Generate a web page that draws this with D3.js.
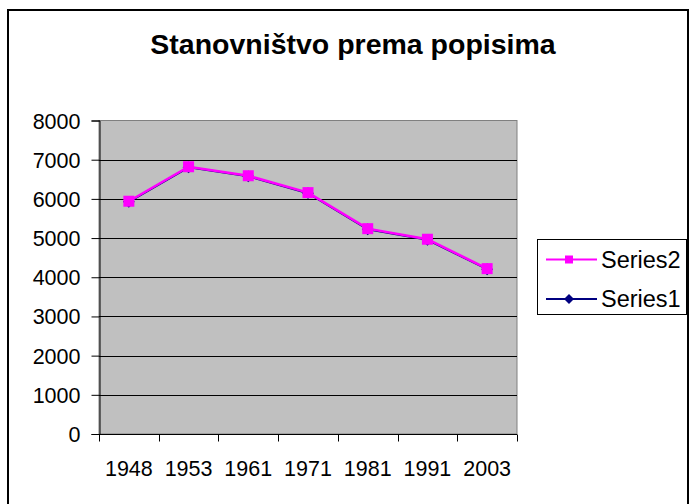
<!DOCTYPE html>
<html>
<head>
<meta charset="utf-8">
<script src="https://cdn.jsdelivr.net/npm/d3@7"></script>
<style>
  body { margin: 0; background: #fff; }
  text { font-family: "Liberation Sans", Arial, sans-serif; fill: #000; }
</style>
</head>
<body>
<div id="chart"></div>
<script>
var years = ["1948", "1953", "1961", "1971", "1981", "1991", "2003"];
var series2 = [5940, 6820, 6590, 6160, 5240, 4970, 4220];
var series1 = [5925, 6805, 6575, 6145, 5225, 4955, 4205];
var yTicks = [0, 1000, 2000, 3000, 4000, 5000, 6000, 7000, 8000];
var seriesNames = ["Series2", "Series1"];

var width = 689;
var height = 504;

var svg = d3.select("#chart")
    .append("svg")
    .attr("width", width)
    .attr("height", height);

// outer frame
svg.append("rect")
    .attr("x", 8).attr("y", 10)
    .attr("width", 680).attr("height", 510)
    .attr("fill", "none")
    .attr("stroke", "#000")
    .attr("stroke-width", 2);

svg.append("text")
    .attr("x", 353).attr("y", 54)
    .attr("text-anchor", "middle")
    .style("font-size", "28.5px")
    .style("font-weight", "bold")
    .text("Stanovništvo prema popisima");

var x = d3.scaleBand()
    .domain(years)
    .range([99, 517])
    .padding(0);

var y = d3.scaleLinear()
    .domain([0, 8000])
    .range([434, 120.5]);

// plot area
svg.append("rect")
    .attr("x", 99).attr("y", y(8000))
    .attr("width", 418).attr("height", y(0) - y(8000))
    .attr("fill", "#c0c0c0")
    .attr("stroke", "#808080")
    .attr("stroke-width", 1);

// gridlines
svg.selectAll(".grid")
    .data(yTicks.filter(function (d) { return d > 0 && d < 8000; }))
    .enter()
    .append("line")
    .attr("x1", 99).attr("x2", 517)
    .attr("y1", function (d) { return Math.round(y(d)) + 0.5; })
    .attr("y2", function (d) { return Math.round(y(d)) + 0.5; })
    .attr("stroke", "#000")
    .attr("stroke-width", 1);

// y axis
var yAxis = d3.axisLeft(y)
    .tickValues(yTicks)
    .tickSize(8)
    .tickPadding(10)
    .tickFormat(function (d) { return d; });

var gy = svg.append("g")
    .attr("transform", "translate(99.5,0)")
    .call(yAxis);
gy.select(".domain").attr("stroke", "#000");
gy.selectAll(".tick line").attr("stroke", "#000");
gy.selectAll(".tick text")
    .attr("x", -19).attr("dy", null).attr("y", 7.5)
    .style("font-size", "21.5px")
    .style("font-family", "'Liberation Sans', Arial, sans-serif")
    .attr("fill", "#000");

// x axis
var gx = svg.append("g")
    .attr("transform", "translate(0," + (Math.round(y(0)) + 0.5) + ")");
gx.append("line")
    .attr("x1", 99).attr("x2", 517)
    .attr("stroke", "#000");
gx.selectAll(".xtick")
    .data(years.concat(["end"]))
    .enter()
    .append("line")
    .attr("x1", function (d, i) { return Math.round(i < years.length ? x(d) : x(years[years.length - 1]) + x.bandwidth()) + 0.5; })
    .attr("x2", function (d, i) { return Math.round(i < years.length ? x(d) : x(years[years.length - 1]) + x.bandwidth()) + 0.5; })
    .attr("y1", 0).attr("y2", 7)
    .attr("stroke", "#000");
gx.selectAll(".xlabel")
    .data(years)
    .enter()
    .append("text")
    .attr("x", function (d) { return x(d) + x.bandwidth() / 2; })
    .attr("y", 41)
    .attr("text-anchor", "middle")
    .style("font-size", "21.5px")
    .text(function (d) { return d; });

function cx(d, i) { return x(years[i]) + x.bandwidth() / 2; }

var line = d3.line()
    .x(function (d, i) { return cx(d, i); })
    .y(function (d) { return y(d); });

// Series1 (navy, diamonds)
svg.append("path")
    .datum(series1)
    .attr("d", line)
    .attr("fill", "none")
    .attr("stroke", "#000080")
    .attr("stroke-width", 2);
svg.selectAll(".diamond")
    .data(series1)
    .enter()
    .append("path")
    .attr("d", d3.symbol().type(d3.symbolSquare).size(70))
    .attr("transform", function (d, i) { return "translate(" + cx(d, i) + "," + y(d) + ") rotate(45)"; })
    .attr("fill", "#000080");

// Series2 (magenta, squares)
svg.append("path")
    .datum(series2)
    .attr("d", line)
    .attr("fill", "none")
    .attr("stroke", "#ff00ff")
    .attr("stroke-width", 2.5);
svg.selectAll(".square")
    .data(series2)
    .enter()
    .append("rect")
    .attr("x", function (d, i) { return cx(d, i) - 5.5; })
    .attr("y", function (d) { return y(d) - 5.5; })
    .attr("width", 11).attr("height", 11)
    .attr("fill", "#ff00ff");

// legend
var legend = svg.append("g");
legend.append("rect")
    .attr("x", 537.5).attr("y", 239.5)
    .attr("width", 149).attr("height", 75)
    .attr("fill", "#fff")
    .attr("stroke", "#000");

var legendColors = ["#ff00ff", "#000080"];
var rows = legend.selectAll(".row")
    .data(seriesNames)
    .enter()
    .append("g")
    .attr("transform", function (d, i) { return "translate(0," + (259.5 + i * 39.5) + ")"; });
rows.append("line")
    .attr("x1", 546).attr("x2", 597)
    .attr("stroke", function (d, i) { return legendColors[i]; })
    .attr("stroke-width", 2);
rows.append("path")
    .attr("transform", function (d, i) {
        return "translate(569,0)" + (i === 1 ? " rotate(45)" : "");
    })
    .attr("d", function (d, i) {
        return d3.symbol().type(d3.symbolSquare).size(i === 0 ? 64 : 50)();
    })
    .attr("fill", function (d, i) { return legendColors[i]; });
rows.append("text")
    .attr("x", 601).attr("y", 8)
    .style("font-size", "23.5px")
    .text(function (d) { return d; });
</script>
</body>
</html>
